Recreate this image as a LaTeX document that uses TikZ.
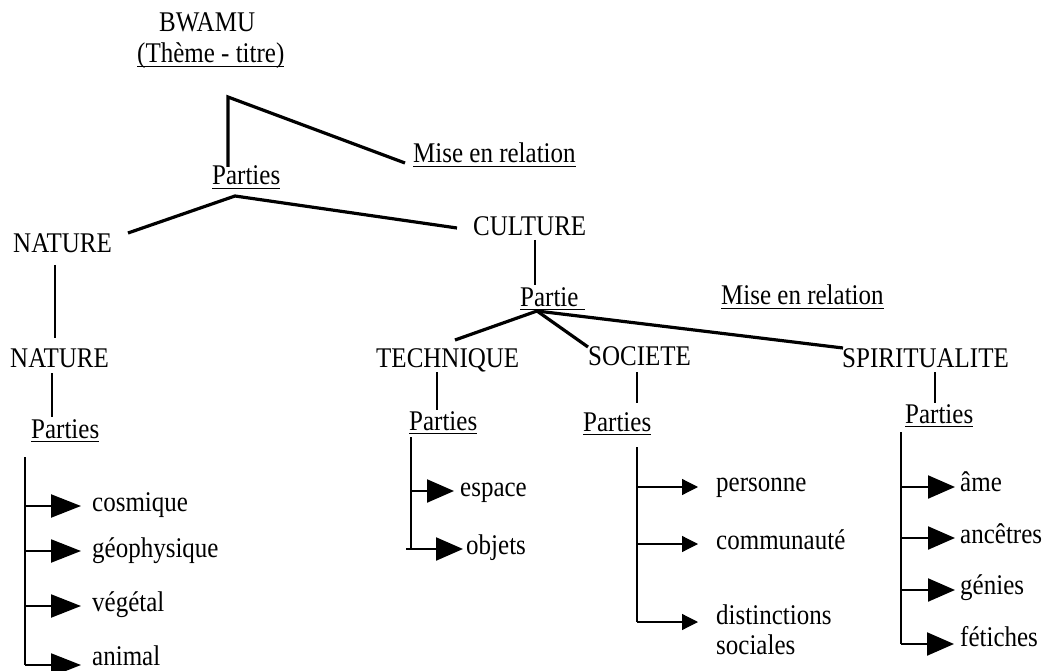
\documentclass[tikz,border=0pt]{standalone}
\usepackage{fontspec}
\usepackage{graphicx}
\setmainfont{Liberation Serif}
\usetikzlibrary{arrows.meta}
\newcommand\ulx[1]{\setbox0\hbox{#1}\rlap{\rule[-3.5pt]{\wd0}{1.2pt}}\box0}
\newcommand\T[1]{\scalebox{1}[1.14]{#1}}
\begin{document}
\begin{tikzpicture}[x=1pt,y=-1pt,
 txt/.style={inner sep=0pt, anchor=base west, font=\fontsize{25}{30}\selectfont},
 main/.style={line width=3.2pt, line join=miter},
 vline/.style={line width=2.6pt},
 brk/.style={line width=2.2pt},
 thinbrk/.style={line width=1.2pt},
 bigarr/.style={-{Triangle[length=30pt,width=23pt]}},
 midarr/.style={-{Triangle[length=27pt,width=23pt]}},
 smallarr/.style={-{Triangle[length=16pt,width=16pt]}}]
\useasboundingbox (0,0) rectangle (1050,671);

% ---- text nodes
\node[txt] (bwamu) at (159,32) {\T{BWAMU}};
\node[txt] (theme) at (137,63) {\T{\ulx{(Thème - titre)}}};
\node[txt] (mer1) at (413,163) {\T{\ulx{Mise en relation}}};
\node[txt] (p0) at (212,185) {\T{\ulx{Parties}}};
\node[txt] (nat1) at (13,253) {\T{NATURE}};
\node[txt] (cult) at (473,236) {\T{CULTURE}};
\node[txt] (partie) at (520,306) {\T{\ulx{Partie\ }}};
\node[txt] (mer2) at (721,305) {\T{\ulx{Mise en relation}}};
\node[txt] (nat2) at (10,367) {\T{NATURE}};
\node[txt] (tech) at (376,367) {\T{TECHNIQUE}};
\node[txt] (soc) at (588,365) {\T{SOCIETE}};
\node[txt] (spir) at (842,367) {\T{SPIRITUALITE}};
\node[txt] (pnat) at (31,438) {\T{\ulx{Parties}}};
\node[txt] (ptech) at (409,430) {\T{\ulx{Parties}}};
\node[txt] (psoc) at (583,431) {\T{\ulx{Parties}}};
\node[txt] (pspir) at (905,423) {\T{\ulx{Parties}}};

% leaves
\node[txt] (cos) at (92,511) {\T{cosmique}};
\node[txt] (geo) at (92,557) {\T{géophysique}};
\node[txt] (veg) at (92,611) {\T{végétal}};
\node[txt] (ani) at (92,665) {\T{animal}};
\node[txt] (esp) at (460,496) {\T{espace}};
\node[txt] (obj) at (466,554) {\T{objets}};
\node[txt] (pers) at (716,491) {\T{personne}};
\node[txt] (comm) at (716,549) {\T{communauté}};
\node[txt] (dist) at (716,624) {\T{distinctions}};
\node[txt] (dist2) at (716,654) {\T{sociales}};
\node[txt] (ame) at (960,491) {\T{âme}};
\node[txt] (anc) at (960,543) {\T{ancêtres}};
\node[txt] (gen) at (960,594) {\T{génies}};
\node[txt] (fet) at (960,646) {\T{fétiches}};

% ---- top tree
\coordinate (a1) at (228,167);
\coordinate (a2) at (228,97);
\coordinate (a3) at (405,163);
\draw[main] (a1) -- (a2) -- (a3);

\coordinate (b1) at (128,233);
\coordinate (b2) at (235,196);
\coordinate (b3) at (457,228);
\draw[main] (b1) -- (b2) -- (b3);

\coordinate (n1) at (55,265);
\coordinate (n2) at (55,338);
\draw[vline] (n1) -- (n2);
\coordinate (n3) at (52,373);
\coordinate (n4) at (52,417);
\draw[vline] (n3) -- (n4);

\coordinate (c1) at (535,240);
\coordinate (c2) at (535,285);
\draw[vline] (c1) -- (c2);

\coordinate (f0) at (537,311);
\coordinate (ft) at (455,340);
\coordinate (fs) at (588,347);
\coordinate (fp) at (843,348);
\draw[main] (ft) -- (f0) -- (fs);
\draw[main] (f0) -- (fp);

\coordinate (t1) at (437,372);
\coordinate (t2) at (437,410);
\draw[vline] (t1) -- (t2);
\coordinate (s1) at (637,372);
\coordinate (s2) at (637,403);
\draw[vline] (s1) -- (s2);
\coordinate (q1) at (935,372);
\coordinate (q2) at (935,403);
\draw[vline] (q1) -- (q2);

% ---- NATURE bracket
\coordinate (nb0) at (25,457);
\coordinate (nb1) at (25,506);
\coordinate (nb2) at (25,551);
\coordinate (nb3) at (25,606);
\coordinate (nb4) at (25,665);
\coordinate (nt1) at (81,506);
\coordinate (nt2) at (81,551);
\coordinate (nt3) at (81,606);
\coordinate (nt4) at (81,665);
\draw[brk] (nb0) -- (nb4);
\foreach \i in {1,2,3,4} {\draw[brk,bigarr] (nb\i) -- (nt\i);}

% ---- TECHNIQUE bracket
\coordinate (tb0) at (411,437);
\coordinate (tb1) at (411,491);
\coordinate (tb2) at (406,549);
\coordinate (tt1) at (454,491);
\coordinate (tt2) at (463,549);
\draw[brk] (tb0) -- (411,549);
\draw[brk,midarr] (tb1) -- (tt1);
\draw[brk,midarr] (tb2) -- (tt2);

% ---- SOCIETE bracket
\coordinate (sb0) at (637,447);
\coordinate (sb1) at (637,487);
\coordinate (sb2) at (637,544);
\coordinate (sb3) at (637,622);
\coordinate (st1) at (698,487);
\coordinate (st2) at (698,544);
\coordinate (st3) at (698,622);
\draw[thinbrk] (sb0) -- (sb3);
\foreach \i in {1,2,3} {\draw[thinbrk,smallarr] (sb\i) -- (st\i);}

% ---- SPIRITUALITE bracket
\coordinate (pb0) at (901,432);
\coordinate (pb1) at (901,487);
\coordinate (pb2) at (901,538);
\coordinate (pb3) at (901,590);
\coordinate (pb4) at (901,644);
\coordinate (pt1) at (955,487);
\coordinate (pt2) at (955,538);
\coordinate (pt3) at (955,590);
\coordinate (pt4) at (954,644);
\draw[brk] (pb0) -- (pb4);
\foreach \i in {1,2,3,4} {\draw[brk,midarr] (pb\i) -- (pt\i);}
\end{tikzpicture}
\end{document}
